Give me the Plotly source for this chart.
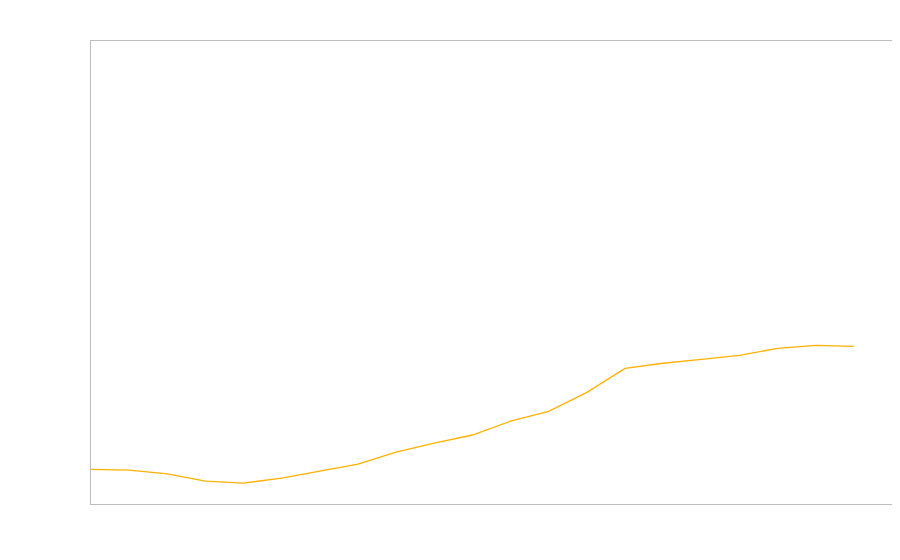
import plotly.graph_objects as go

periods = list(range(21))
values = [7.5, 7.3, 6.5, 4.95, 4.5, 5.6, 7.1, 8.6, 11.2, 13.15, 14.9, 17.9, 20.0, 24.1, 29.3, 30.4, 31.25, 32.1, 33.6, 34.25, 34.05]

fig = go.Figure(
    go.Scatter(
        x=periods,
        y=values,
        mode="lines",
        line=dict(color="#FFB000", width=1.3),
        hoverinfo="skip",
    )
)

axis_style = dict(
    showgrid=False,
    zeroline=False,
    showticklabels=False,
    ticks="",
    showline=True,
    mirror=True,
    linecolor="#BDBDBD",
    linewidth=1,
)

fig.update_layout(
    width=900,
    height=560,
    margin=dict(l=83, r=16, t=33, b=64),
    paper_bgcolor="white",
    plot_bgcolor="white",
    showlegend=False,
    xaxis=dict(range=[0, 21], **axis_style),
    yaxis=dict(range=[0, 100], **axis_style),
)

fig.write_html("out.html")
